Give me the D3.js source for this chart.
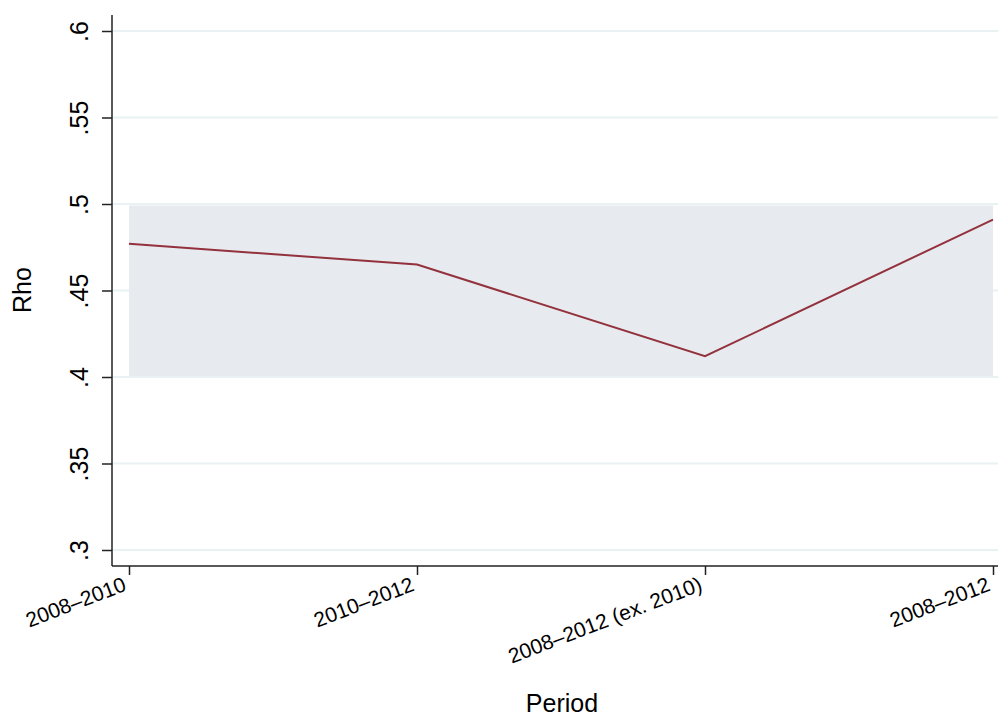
<!DOCTYPE html>
<html lang="en">
<head>
<meta charset="UTF-8">
<title>Rho by period</title>
<script src="https://cdn.jsdelivr.net/npm/d3@7"></script>
<style>
  body { margin: 0; background: #fff; }
  text { font-family: "Liberation Sans", Arial, Helvetica, sans-serif; fill: #000; }
  .axis path, .axis line { stroke: #222; stroke-width: 1.5; }
</style>
</head>
<body>
<div id="chart"></div>
<script>
// data
const periods = ["2008\u20132010", "2010\u20132012", "2008\u20132012 (ex. 2010)", "2008\u20132012"];
const rho = [0.477, 0.465, 0.412, 0.491];
const bandLow = [0.4, 0.4, 0.4, 0.4];
const bandHigh = [0.5, 0.5, 0.5, 0.5];
const yTicks = [0.3, 0.35, 0.4, 0.45, 0.5, 0.55, 0.6];
const yTickLabels = [".3", ".35", ".4", ".45", ".5", ".55", ".6"];

const W = 998, H = 718;
const svg = d3.select("#chart").append("svg")
  .attr("width", W).attr("height", H);

const x = d3.scalePoint().domain(periods).range([129, 993]);
const y = d3.scaleLinear().domain([0.3, 0.6]).range([550, 31]);

const left = 112, bottom = 566;

// gridlines
svg.append("g").selectAll("line").data(yTicks).enter().append("line")
  .attr("x1", left).attr("x2", W)
  .attr("y1", d => y(d)).attr("y2", d => y(d))
  .attr("stroke", "#eaf1f3").attr("stroke-width", 2);

// shaded band
const area = d3.area()
  .x(d => x(d.p))
  .y0(d => y(d.lo) - 1)
  .y1(d => y(d.hi) + 1.5);
const bandData = periods.map((p, i) => ({ p: p, lo: bandLow[i], hi: bandHigh[i] }));
svg.append("path").datum(bandData)
  .attr("d", area)
  .attr("fill", "#e7ebf0");

// line
const line = d3.line().x((d, i) => x(periods[i])).y(d => y(d));
svg.append("path").datum(rho)
  .attr("d", line)
  .attr("fill", "none")
  .attr("stroke", "#93313c")
  .attr("stroke-width", 2);

// y axis
const yAxis = d3.axisLeft(y).tickValues(yTicks)
  .tickFormat((d, i) => yTickLabels[i]).tickSize(10).tickPadding(0);
const gy = svg.append("g").attr("class", "axis")
  .attr("transform", `translate(${left},0)`).call(yAxis);
gy.select(".domain").attr("d", `M0,15V${bottom}`);
gy.selectAll("text")
  .attr("font-size", 25)
  .attr("text-anchor", "middle")
  .attr("x", 0).attr("dy", 0)
  .attr("transform", "translate(-24,0) rotate(-90)");

// x axis
const xAxis = d3.axisBottom(x).tickSize(10).tickPadding(0);
const gx = svg.append("g").attr("class", "axis")
  .attr("transform", `translate(0,${bottom})`).call(xAxis);
gx.select(".domain").attr("d", `M${left},0H${W}`);
gx.selectAll(".tick line").attr("y1", 0).attr("y2", 9);
gx.selectAll("text")
  .attr("font-size", 21)
  .attr("text-anchor", "end")
  .attr("x", 0).attr("y", 0).attr("dy", 0)
  .attr("transform", "translate(-2,24) rotate(-21)");

// axis titles
svg.append("text")
  .attr("transform", "translate(31,290) rotate(-90)")
  .attr("text-anchor", "middle")
  .attr("font-size", 25)
  .text("Rho");
svg.append("text")
  .attr("x", 562).attr("y", 712)
  .attr("text-anchor", "middle")
  .attr("font-size", 25)
  .text("Period");
</script>
</body>
</html>
